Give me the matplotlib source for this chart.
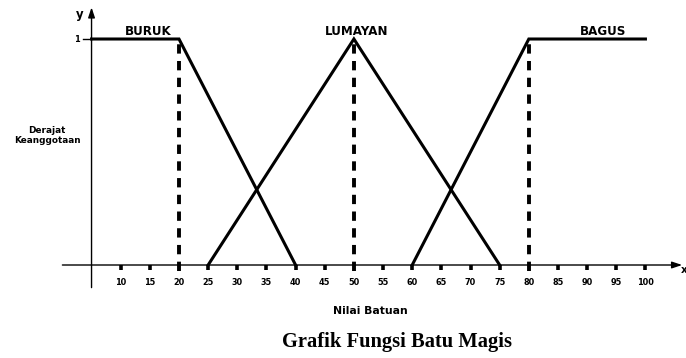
import matplotlib
matplotlib.use("Agg")
import matplotlib.pyplot as plt

# Data
set_names = ["BURUK", "LUMAYAN", "BAGUS"]
buruk_x = [5, 20, 40]
buruk_y = [1, 1, 0]
lumayan_x = [25, 50, 75]
lumayan_y = [0, 1, 0]
bagus_x = [60, 80, 100]
bagus_y = [0, 1, 1]
dashed_x = [20, 50, 80]
tick_values = [10, 15, 20, 25, 30, 35, 40, 45, 50, 55, 60, 65, 70, 75, 80, 85, 90, 95, 100]
label_x = [14.7, 50.5, 92.7]

fig = plt.figure(figsize=(6.86, 3.58), dpi=100)
ax = fig.add_axes([0, 0, 1, 1])
ax.set_xlim(-10.70, 106.96)
ax.set_ylim(-0.4115, 1.1726)
ax.axis("off")

sans = "DejaVu Sans"
# axes
ax.annotate("", xy=(106.3, 0), xytext=(0, 0),
            arrowprops=dict(arrowstyle="-|>,head_length=0.6,head_width=0.2", lw=1.0, color="black", shrinkA=0, shrinkB=0))
ax.annotate("", xy=(5, 1.14), xytext=(5, -0.10),
            arrowprops=dict(arrowstyle="-|>,head_length=0.6,head_width=0.2", lw=1.0, color="black", shrinkA=0, shrinkB=0))
ax.plot([3.5, 5], [1, 1], color="black", lw=1.0)

# ticks
for v in tick_values:
    if v in dashed_x:
        continue
    ax.plot([v, v], [0, -0.022], color="black", lw=2.6, solid_capstyle="butt")

# dashed lines
for v in dashed_x:
    ax.plot([v, v], [-0.025, 0.995], color="black", lw=2.8, linestyle=(0, (2.4, 1.9)), dash_capstyle="butt")

# membership functions
for xs, ys in [(buruk_x, buruk_y), (lumayan_x, lumayan_y), (bagus_x, bagus_y)]:
    ax.plot(xs, ys, color="black", lw=2.2, solid_joinstyle="miter")

# tick labels
for v in tick_values:
    ax.text(v, -0.076, str(v), ha="center", va="center", fontsize=5.9, fontweight="bold", family=sans)

# set labels
for name, lx in zip(set_names, label_x):
    ax.text(lx, 1.035, name, ha="center", va="center", fontsize=8.6, fontweight="bold", family=sans)

ax.text(3.05, 1.11, "y", ha="center", va="center", fontsize=8.5, fontweight="bold", family=sans)
ax.text(2.5, 0.998, "1", ha="center", va="center", fontsize=5.9, fontweight="bold", family=sans)
ax.text(106.1, -0.022, "x", ha="left", va="center", fontsize=7.5, fontweight="bold", family=sans)
ax.text(-2.64, 0.571, "Derajat\nKeanggotaan", ha="center", va="center", fontsize=6.4,
        fontweight="bold", family=sans, linespacing=1.15)
ax.text(52.9, -0.204, "Nilai Batuan", ha="center", va="center", fontsize=7.8, fontweight="bold", family=sans)
ax.text(57.4, -0.341, "Grafik Fungsi Batu Magis", ha="center", va="center", fontsize=14.8,
        fontweight="bold", family="Liberation Serif")

fig.savefig("out.png", dpi=100)
